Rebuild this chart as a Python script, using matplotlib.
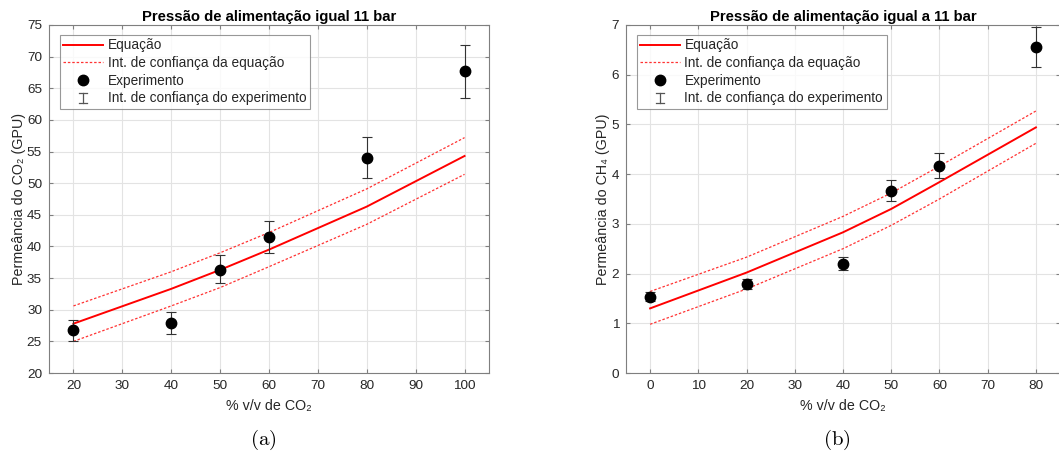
import matplotlib.pyplot as plt
from matplotlib.lines import Line2D
from matplotlib.legend_handler import HandlerBase
import numpy as np

plt.rcParams['font.family'] = ['Liberation Sans', 'DejaVu Sans']
plt.rcParams['mathtext.fontset'] = 'cm'

# (a) CO2 permeance
x_a = [20, 40, 50, 60, 80, 100]
eq_a = [27.8, 33.3, 36.3, 39.5, 46.3, 54.3]
eq_a_up = [30.6, 36.0, 39.0, 42.2, 49.1, 57.2]
eq_a_lo = [25.0, 30.6, 33.5, 36.8, 43.5, 51.4]
exp_a = [26.75, 27.85, 36.35, 41.55, 54.05, 67.7]
exp_a_up = [28.35, 29.6, 38.65, 44.1, 57.35, 71.8]
exp_a_lo = [25.0, 26.15, 34.2, 39.0, 50.75, 63.5]

# (b) CH4 permeance
x_b = [0, 20, 40, 50, 60, 80]
eq_b = [1.30, 2.02, 2.83, 3.30, 3.84, 4.94]
eq_b_up = [1.64, 2.33, 3.15, 3.62, 4.16, 5.27]
eq_b_lo = [0.98, 1.69, 2.50, 2.97, 3.50, 4.62]
exp_b = [1.53, 1.79, 2.20, 3.67, 4.17, 6.56]
exp_b_up = [1.62, 1.90, 2.34, 3.89, 4.42, 6.95]
exp_b_lo = [1.44, 1.69, 2.07, 3.45, 3.92, 6.16]

labels = ['Equação', 'Int. de confiança da equação', 'Experimento',
          'Int. de confiança do experimento']

W, H = 1059, 461
fig = plt.figure(figsize=(W / 100, H / 100), dpi=100)
ax_a = fig.add_axes([49 / W, (H - 373) / H, 440 / W, 348 / H])
ax_b = fig.add_axes([626 / W, (H - 373) / H, 434 / W, 348 / H])

axcol = '#262626'
gridcol = '#e3e3e3'
ci_style = dict(color='#ff3333', lw=0.9, ls=(0, (2, 1.5)))


class ErrIcon:
    pass


class HandlerErrIcon(HandlerBase):
    # draws an "I" shaped error bar symbol in the legend
    def create_artists(self, legend, orig_handle, xdescent, ydescent,
                       width, height, fontsize, trans):
        cx = width / 2 - xdescent
        h = fontsize * 0.75
        cy = height / 2 - ydescent
        c = 3.0
        kw = dict(color='#555555', lw=0.9, transform=trans)
        return [Line2D([cx, cx], [cy - h / 2, cy + h / 2], **kw),
                Line2D([cx - c, cx + c], [cy + h / 2] * 2, **kw),
                Line2D([cx - c, cx + c], [cy - h / 2] * 2, **kw)]


def draw(ax, x, eq, up, lo, ym, yu, yl):
    ax.plot(x, eq, color='red', lw=1.4, zorder=3)
    ax.plot(x, up, zorder=3, **ci_style)
    ax.plot(x, lo, zorder=3, **ci_style)
    ym = np.array(ym)
    err = [ym - np.array(yl), np.array(yu) - ym]
    ax.errorbar(x, ym, yerr=err, fmt='none', ecolor='#333333', elinewidth=0.8,
                capsize=3.5, capthick=0.8, zorder=4)
    ax.plot(x, ym, 'o', color='black', ms=7.5, zorder=5)
    ax.grid(True, color=gridcol, lw=0.8)
    ax.set_axisbelow(True)
    for s in ax.spines.values():
        s.set_color('#7f7f7f')
        s.set_linewidth(0.8)
    ax.tick_params(direction='in', top=True, right=True, length=3,
                   color='#7f7f7f', labelcolor=axcol, labelsize=9.7, pad=5)
    h_eq = Line2D([], [], color='red', lw=1.4)
    h_ci = Line2D([], [], **ci_style)
    h_exp = Line2D([], [], color='black', marker='o', ls='none', ms=7.5)
    leg = ax.legend([h_eq, h_ci, h_exp, ErrIcon()], labels, loc='upper left',
                    bbox_to_anchor=(11 / 440, 1 - 10 / 348),
                    fontsize=9.8, frameon=True, fancybox=False,
                    borderaxespad=0, handlelength=2.9, handletextpad=0.35,
                    labelspacing=0.27, borderpad=0.25,
                    handler_map={ErrIcon: HandlerErrIcon()})
    leg.get_frame().set_edgecolor('#7f7f7f')
    leg.get_frame().set_linewidth(0.8)
    for t in leg.get_texts():
        t.set_color(axcol)


draw(ax_a, x_a, eq_a, eq_a_up, eq_a_lo, exp_a, exp_a_up, exp_a_lo)
ax_a.set_xlim(15, 105)
ax_a.set_ylim(20, 75)
ax_a.set_xticks(range(20, 101, 10))
ax_a.set_yticks(range(20, 76, 5))
ax_a.set_title('Pressão de alimentação igual 11 bar', fontsize=10.7,
               fontweight='bold', pad=3)
ax_a.set_xlabel('% v/v de CO₂', fontsize=10.3, color=axcol, labelpad=5)
ax_a.set_ylabel('Permeância do CO₂ (GPU)', fontsize=10.3, color=axcol, labelpad=0.5)

draw(ax_b, x_b, eq_b, eq_b_up, eq_b_lo, exp_b, exp_b_up, exp_b_lo)
ax_b.set_xlim(-5, 85)
ax_b.set_ylim(0, 7)
ax_b.set_xticks(range(0, 81, 10))
ax_b.set_yticks(range(0, 8))
ax_b.set_title('Pressão de alimentação igual a 11 bar', fontsize=10.7,
               fontweight='bold', pad=3)
ax_b.set_xlabel('% v/v de CO₂', fontsize=10.3, color=axcol, labelpad=5)
ax_b.set_ylabel('Permeância do CH₄ (GPU)', fontsize=10.3, color=axcol, labelpad=1)

fig.text(263 / W, 1 - 440 / H, r'$\mathrm{(a)}$', fontsize=15, ha='center', va='center')
fig.text(837 / W, 1 - 440 / H, r'$\mathrm{(b)}$', fontsize=15, ha='center', va='center')

fig.savefig('out.png', dpi=100)
